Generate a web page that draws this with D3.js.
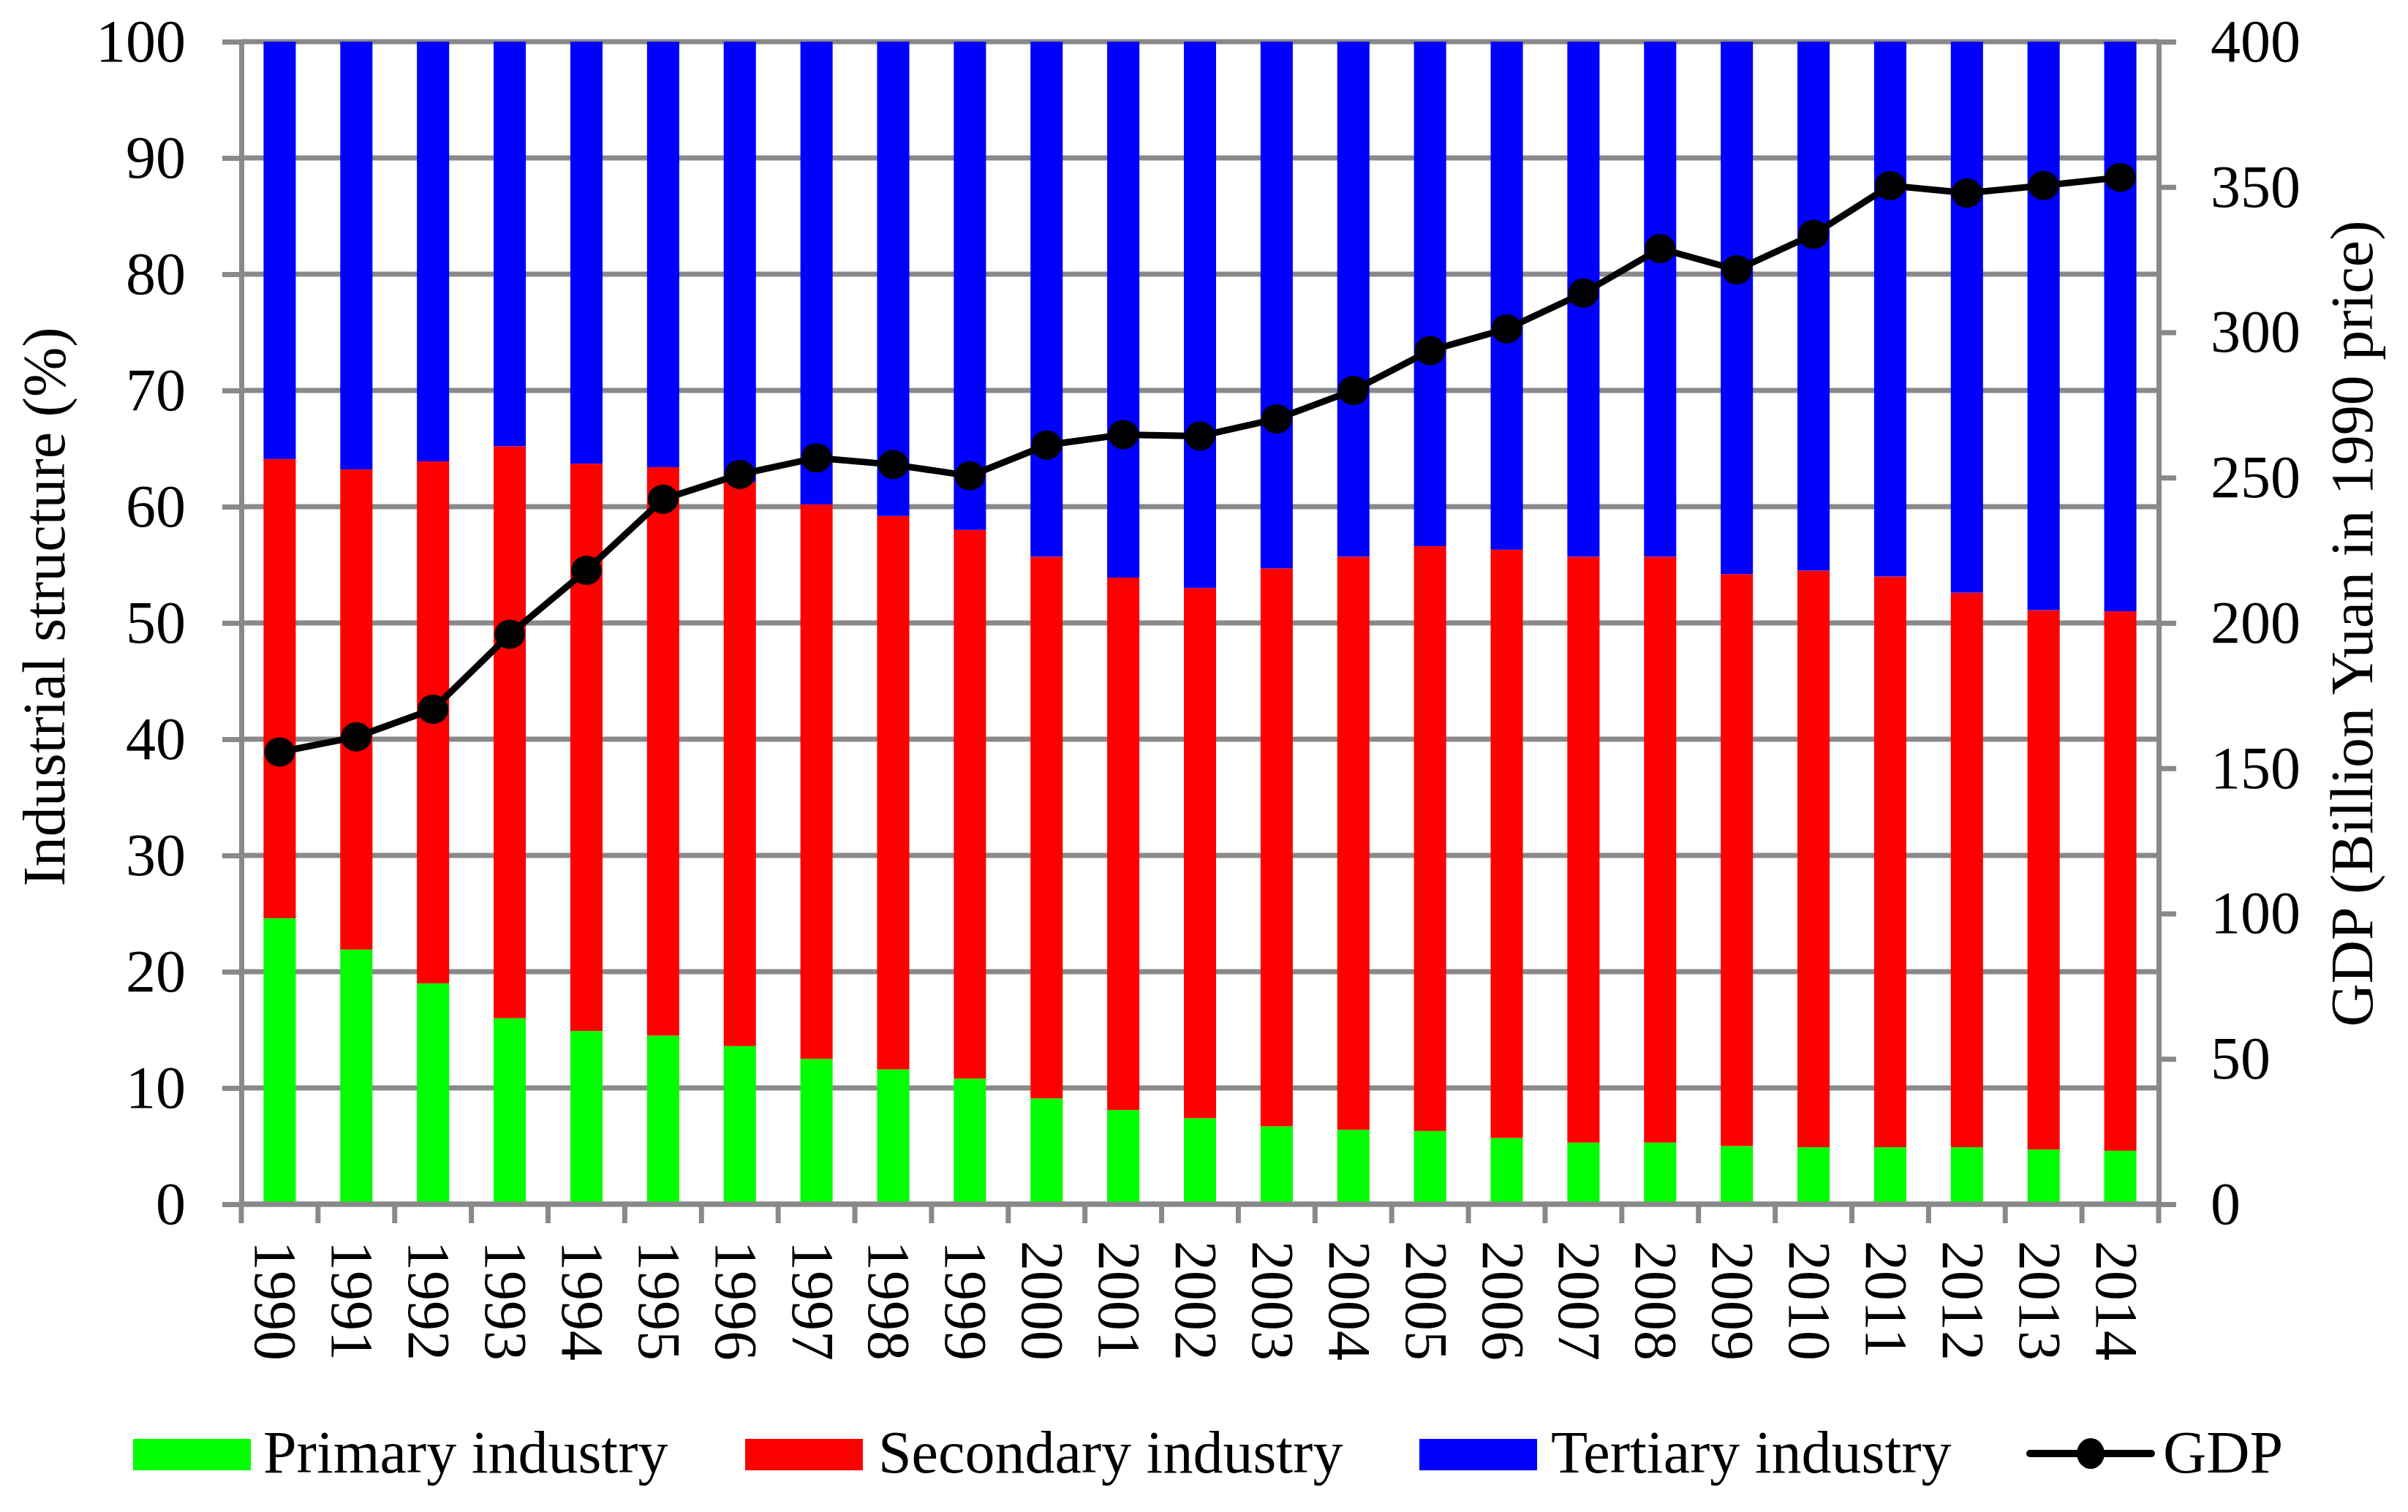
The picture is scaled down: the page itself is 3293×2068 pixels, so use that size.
<!DOCTYPE html>
<html lang="en">
  <head>
  <meta charset="utf-8"/>
    <script type="text/javascript" src="https://cdnjs.cloudflare.com/ajax/libs/d3/7.8.5/d3.min.js"></script>
    <style>
      body { margin: 0; background: #fff; }
      text { font-family: "Liberation Serif", "Times New Roman", serif; fill: #000; }
    </style>
  </head>
  <body>
<svg class="chart"></svg>
    <script type="text/javascript">

// years on the x axis
var years = ["1990","1991","1992","1993","1994","1995","1996","1997","1998","1999","2000","2001","2002",
  "2003","2004","2005","2006","2007","2008","2009","2010","2011","2012","2013","2014"];
// industrial structure, %
var primary = [24.6,21.9,19.0,16.0,14.9,14.5,13.6,12.5,11.6,10.8,9.1,8.1,7.4,6.7,6.4,6.3,5.7,5.3,5.3,5.0,4.9,4.9,4.9,4.7,4.6];
var secondary = [39.5,41.3,44.9,49.2,48.8,48.9,48.5,47.7,47.6,47.2,46.6,45.8,45.6,48.0,49.3,50.3,50.6,50.4,50.4,49.2,49.6,49.1,47.7,46.4,46.4];
var tertiary = [35.9,36.8,36.1,34.8,36.3,36.6,37.9,39.8,40.8,42.0,44.3,46.1,47.0,45.3,44.3,43.4,43.7,44.3,44.3,45.8,45.5,46.0,47.4,48.9,49.0];
// GDP, billion yuan in 1990 price
var gdp = [155.6,160.8,170.3,196.1,218.1,242.6,251.1,256.8,254.5,250.6,261.2,264.8,264.3,270.2,280.0,293.7,301.2,313.5,328.8,321.5,333.7,350.5,347.9,350.5,353.3];
var leftTicks = [0,10,20,30,40,50,60,70,80,90,100];
var rightTicks = [0,50,100,150,200,250,300,350,400];
var seriesNames = ["Primary industry","Secondary industry","Tertiary industry"];

var width = 3293, height = 2068;
// plot box (top/left are taken by window, so use other names)
var plotL = 330, plotR = 2952, plotT = 57, plotB = 1647;
var gray = "#898989";
var fontSize = 82;
var colors = {"Primary industry": "#00ff00", "Secondary industry": "#ff0000", "Tertiary industry": "#0000ff"};

var svg = d3.select(".chart").attr("width", width).attr("height", height);

var x = d3.scaleBand().domain(years).range([plotL, plotR]).paddingInner(0.58).paddingOuter(0.29);
var yL = d3.scaleLinear().domain([0, 100]).range([plotB, plotT]);
var yR = d3.scaleLinear().domain([0, 400]).range([plotB, plotT]);

// build rows for the stack
var rows = years.map(function(y, i) {
  return {year: y, "Primary industry": primary[i], "Secondary industry": secondary[i], "Tertiary industry": tertiary[i]};
});
var stacked = d3.stack().keys(seriesNames)(rows);

// gridlines behind bars
svg.append("g").selectAll("line").data(leftTicks).enter().append("line")
  .attr("x1", plotL).attr("x2", plotR)
  .attr("y1", function(d) { return yL(d); }).attr("y2", function(d) { return yL(d); })
  .attr("stroke", gray).attr("stroke-width", 7);

// bars
svg.append("g").selectAll("g").data(stacked).enter().append("g")
  .attr("fill", function(s) { return colors[s.key]; })
  .selectAll("rect").data(function(s) { return s; }).enter().append("rect")
  .attr("x", function(d) { return x(d.data.year); })
  .attr("width", x.bandwidth())
  .attr("y", function(d) { return yL(d[1]); })
  .attr("height", function(d) { return yL(d[0]) - yL(d[1]); });

// left axis
var axL = svg.append("g").attr("transform", "translate(" + plotL + ",0)")
  .call(d3.axisLeft(yL).tickValues(leftTicks).tickSize(26).tickPadding(50).tickSizeOuter(0));
// right axis
var axR = svg.append("g").attr("transform", "translate(" + plotR + ",0)")
  .call(d3.axisRight(yR).tickValues(rightTicks).tickSize(24).tickPadding(47).tickSizeOuter(0));
[axL, axR].forEach(function(ax) {
  ax.select(".domain").attr("stroke", gray).attr("stroke-width", 7);
  ax.selectAll(".tick line").attr("stroke", gray).attr("stroke-width", 7);
  ax.selectAll(".tick text").attr("font-size", fontSize).attr("font-family", "Liberation Serif, Times New Roman, serif");
});

// bottom axis: ticks sit on the category edges
var half = (x.step() - x.bandwidth()) / 2;
var edges = years.map(function(y) { return x(y) - half; }).concat([plotR]);
svg.append("line").attr("x1", plotL - 3).attr("x2", plotR + 3).attr("y1", plotB).attr("y2", plotB)
  .attr("stroke", gray).attr("stroke-width", 7);
svg.append("g").selectAll("line").data(edges).enter().append("line")
  .attr("x1", function(d) { return d; }).attr("x2", function(d) { return d; })
  .attr("y1", plotB).attr("y2", plotB + 26)
  .attr("stroke", gray).attr("stroke-width", 7);
svg.append("g").selectAll("text").data(years).enter().append("text")
  .attr("transform", function(d) { return "translate(" + (x(d) + x.bandwidth() / 2) + "," + 1697 + ") rotate(90)"; })
  .attr("y", 33)
  .attr("font-size", fontSize)
  .text(function(d) { return d; });

// GDP line and markers
var line = d3.line()
  .x(function(d, i) { return x(years[i]) + x.bandwidth() / 2; })
  .y(function(d) { return yR(d); });
svg.append("path").datum(gdp).attr("d", line)
  .attr("fill", "none").attr("stroke", "#000").attr("stroke-width", 9);
svg.append("g").selectAll("ellipse").data(gdp).enter().append("ellipse")
  .attr("cx", function(d, i) { return x(years[i]) + x.bandwidth() / 2; })
  .attr("cy", function(d) { return yR(d); })
  .attr("rx", 21).attr("ry", 20).attr("fill", "#000");

// axis titles
svg.append("text").attr("transform", "translate(88,830) rotate(-90)")
  .attr("text-anchor", "middle").attr("font-size", fontSize)
  .text("Industrial structure (%)");
svg.append("text").attr("transform", "translate(3244,853) rotate(-90)")
  .attr("text-anchor", "middle").attr("font-size", fontSize)
  .text("GDP (Billion Yuan in 1990 price)");

// legend
var legendX = [182, 1019, 1941];
var legendTextX = [360, 1201, 2121];
seriesNames.forEach(function(name, i) {
  svg.append("rect").attr("x", legendX[i]).attr("y", 1968).attr("width", 161).attr("height", 43)
    .attr("fill", colors[name]);
  svg.append("text").attr("x", legendTextX[i]).attr("y", 2014).attr("font-size", fontSize).text(name);
});
svg.append("line").attr("x1", 2776).attr("x2", 2942).attr("y1", 1988).attr("y2", 1988)
  .attr("stroke", "#000").attr("stroke-width", 10).attr("stroke-linecap", "round");
svg.append("ellipse").attr("cx", 2859).attr("cy", 1988).attr("rx", 19).attr("ry", 21).attr("fill", "#000");
svg.append("text").attr("x", 2958).attr("y", 2014).attr("font-size", fontSize).text("GDP");

    </script>
  </body>
</html>
